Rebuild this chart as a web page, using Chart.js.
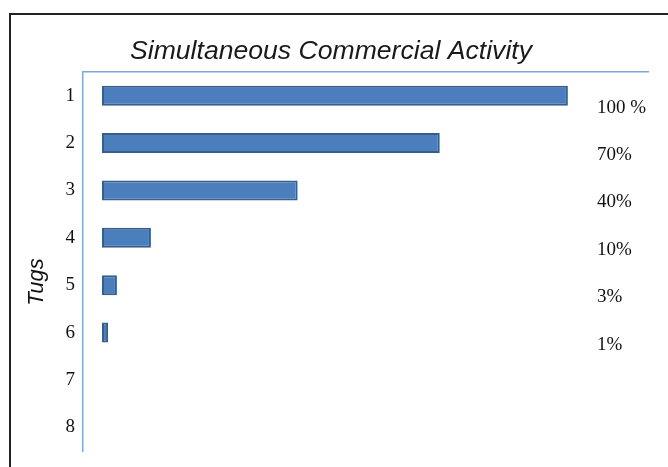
<!DOCTYPE html>
<html>
<head>
<meta charset="utf-8">
<script src="https://cdn.jsdelivr.net/npm/chart.js@4"></script>
<style>
  html, body { margin: 0; padding: 0; background: #fff; }
  #wrap { position: relative; width: 668px; height: 467px; overflow: hidden; }
  #frame { position: absolute; left: 9px; top: 13px; width: 700px; height: 500px;
           border-left: 2px solid #222; border-top: 2px solid #222; pointer-events: none; }
  canvas { position: absolute; left: 0; top: 0; }
</style>
</head>
<body>
<div id="wrap">
  <canvas id="c" width="668" height="467"></canvas>
  <div id="frame"></div>
</div>
<script>
const categories = ['1', '2', '3', '4', '5', '6', '7', '8'];
const activity = [100, 72.5, 42, 10.5, 3.2, 1.3, null, null];
const percentLabels = ['100 %', '70%', '40%', '10%', '3%', '1%'];
const chartTitle = 'Simultaneous Commercial Activity';
const yTitle = 'Tugs';

const extraText = {
  id: 'extraText',
  afterDraw(chart) {
    const ctx = chart.ctx;
    const y = chart.scales.y;
    ctx.save();
    ctx.fillStyle = '#111';
    ctx.font = '19px "Liberation Serif", "Times New Roman", serif';
    ctx.textAlign = 'left';
    ctx.textBaseline = 'middle';
    percentLabels.forEach((t, i) => {
      ctx.fillText(t, 597, y.getPixelForValue(i) + 12);
    });
    // chart title
    ctx.fillStyle = '#1a1a1a';
    ctx.font = 'italic 26.6px "Liberation Sans", Arial, sans-serif';
    ctx.textAlign = 'center';
    ctx.fillText(chartTitle, 331, 52);
    // y axis title
    ctx.fillStyle = '#111';
    ctx.translate(37, 282);
    ctx.rotate(-Math.PI / 2);
    ctx.font = 'italic 22px "Liberation Sans", Arial, sans-serif';
    ctx.fillText(yTitle, 0, 0);
    ctx.restore();
  }
};

new Chart(document.getElementById('c'), {
  type: 'bar',
  data: {
    labels: categories,
    datasets: [{
      data: activity,
      backgroundColor: '#4a7ebc',
      borderColor: '#385d8a',
      borderWidth: 2,
      borderSkipped: false,
      barPercentage: 0.42,
      categoryPercentage: 1
    }]
  },
  options: {
    indexAxis: 'y',
    responsive: false,
    animation: false,
    layout: { padding: { left: 0, right: 20, top: 72, bottom: 16 } },
    plugins: {
      legend: { display: false },
      tooltip: { enabled: false },
      title: { display: false }
    },
    scales: {
      x: {
        position: 'top',
        min: -4.08,
        max: 117.2,
        ticks: { display: false },
        grid: { display: false, drawTicks: false },
        border: { display: true, color: '#7fa7dd', width: 1.5 },
        afterFit(s) { s.height = 0; s.paddingLeft = 0; s.paddingRight = 0; }
      },
      y: {
        ticks: {
          color: '#111',
          padding: 8,
          font: { family: '"Liberation Serif", "Times New Roman", serif', size: 19 }
        },
        grid: { display: false, drawTicks: false },
        border: { display: true, color: '#7fa7dd', width: 1.5 },
        afterFit(s) { s.width = 83; s.paddingTop = 0; s.paddingBottom = 0; }
      }
    }
  },
  plugins: [extraText]
});
</script>
</body>
</html>
